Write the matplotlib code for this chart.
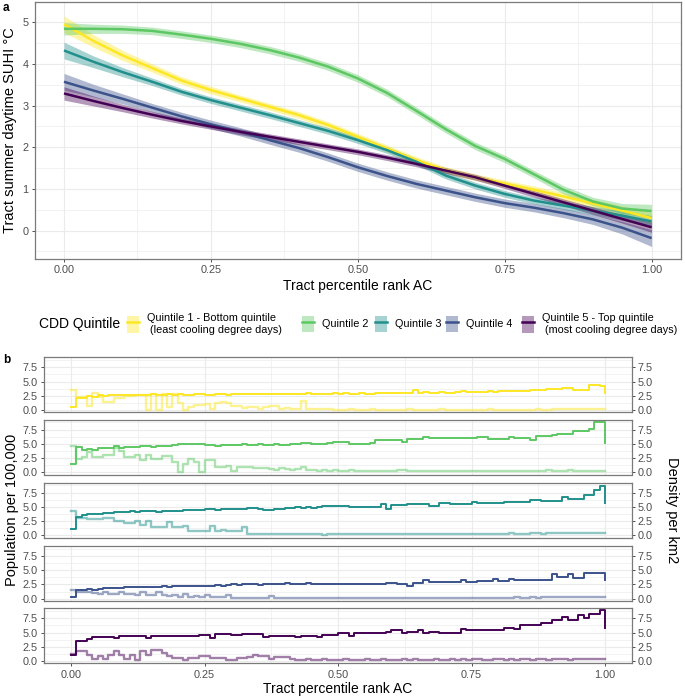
import numpy as np
import matplotlib
matplotlib.use("Agg")
import matplotlib.pyplot as plt
from matplotlib.patches import Patch
from matplotlib.lines import Line2D
from matplotlib.ticker import MultipleLocator, FixedLocator

plt.rcParams['font.family'] = ['Liberation Sans', 'DejaVu Sans']

# ---------------- data ----------------
quintile_labels = ["Quintile 1 - Bottom quintile\n (least cooling degree days)",
                   "Quintile 2", "Quintile 3", "Quintile 4",
                   "Quintile 5 - Top quintile\n (most cooling degree days)"]
colors = ["#FDE725", "#5DC863", "#21908C", "#3B528B", "#440154"]

# panel a: smoothed SUHI vs percentile rank AC
x_ac = np.round(np.arange(21) * 0.05, 2)
suhi_q1 = [4.95, 4.55, 4.2, 3.9, 3.6, 3.37, 3.17, 2.97, 2.77, 2.53, 2.25, 1.97, 1.69, 1.45, 1.28, 1.13, 0.98, 0.82, 0.65, 0.48, 0.3]
suhi_q2 = [4.84, 4.84, 4.83, 4.79, 4.7, 4.6, 4.48, 4.33, 4.15, 3.93, 3.65, 3.3, 2.87, 2.43, 2.03, 1.72, 1.35, 0.98, 0.7, 0.53, 0.47]
suhi_q3 = [4.32, 4.05, 3.8, 3.57, 3.33, 3.13, 2.95, 2.77, 2.58, 2.39, 2.17, 1.93, 1.65, 1.32, 1.08, 0.88, 0.72, 0.6, 0.48, 0.36, 0.22]
suhi_q4 = [3.57, 3.36, 3.16, 2.95, 2.74, 2.55, 2.37, 2.17, 1.98, 1.76, 1.52, 1.31, 1.12, 0.96, 0.8, 0.66, 0.55, 0.42, 0.27, 0.07, -0.18]
suhi_q5 = [3.29, 3.11, 2.94, 2.78, 2.63, 2.5, 2.37, 2.25, 2.13, 2.01, 1.89, 1.75, 1.6, 1.44, 1.28, 1.08, 0.88, 0.68, 0.48, 0.28, 0.08]
se_q1 = [0.2, 0.15, 0.12, 0.1, 0.09, 0.09, 0.08, 0.08, 0.08, 0.08, 0.08, 0.08, 0.08, 0.08, 0.08, 0.08, 0.09, 0.09, 0.1, 0.11, 0.13]
se_q2 = [0.15, 0.11, 0.1, 0.09, 0.09, 0.09, 0.09, 0.09, 0.09, 0.09, 0.09, 0.09, 0.09, 0.09, 0.09, 0.09, 0.09, 0.1, 0.1, 0.12, 0.16]
se_q3 = [0.2, 0.14, 0.11, 0.09, 0.08, 0.08, 0.08, 0.08, 0.08, 0.08, 0.08, 0.08, 0.08, 0.08, 0.08, 0.08, 0.08, 0.09, 0.1, 0.11, 0.14]
se_q4 = [0.2, 0.15, 0.12, 0.1, 0.1, 0.1, 0.1, 0.1, 0.1, 0.1, 0.1, 0.1, 0.1, 0.1, 0.1, 0.1, 0.1, 0.11, 0.12, 0.15, 0.2]
se_q5 = [0.16, 0.12, 0.09, 0.08, 0.07, 0.07, 0.07, 0.07, 0.07, 0.07, 0.07, 0.07, 0.07, 0.07, 0.07, 0.07, 0.08, 0.08, 0.09, 0.1, 0.12]

# panel b: population per 100,000 (dark) and density per km2 (light), by percentile bin
x_rank = np.round(np.arange(101) * 0.01, 2)
pop_q1 = [0.6, 2.2, 2.2, 2.5, 2.4, 2.6, 2.5, 2.6, 2.7, 2.6,
          2.6, 2.7, 2.7, 2.6, 2.7, 2.8, 2.7, 2.7, 2.8, 2.7,
          2.8, 2.7, 2.7, 2.8, 2.8, 2.7, 2.7, 2.8, 2.8, 2.7,
          2.8, 2.8, 2.9, 2.8, 2.8, 2.8, 2.9, 2.8, 2.8, 2.9,
          2.9, 2.8, 2.9, 2.9, 3.1, 2.9, 2.9, 2.8, 2.9, 3.0,
          2.9, 3.0, 2.9, 2.9, 3.0, 2.9, 2.9, 3.0, 3.0, 3.1,
          3.0, 3.0, 3.1, 3.1, 3.5, 3.0, 3.2, 3.1, 3.1, 3.2,
          3.1, 3.1, 3.2, 3.4, 3.2, 3.2, 3.2, 3.2, 3.3, 3.2,
          3.3, 3.3, 3.3, 3.4, 3.3, 3.4, 3.5, 3.6, 3.6, 3.7,
          3.8, 3.7, 3.9, 3.9, 3.6, 3.5, 3.6, 4.4, 4.4, 4.3,
          3.0]
den_q1 = [3.5, 2.3, 2.3, 0.7, 3.0, 2.3, 1.5, 1.5, 2.2, 2.2,
          2.5, 2.5, 2.6, 2.6, 0.0, 2.8, 0.0, 2.8, 0.5, 2.8,
          1.3, 0.0, 0.5, 0.9, 1.0, 1.1, 0.3, 1.3, 1.5, 1.2,
          0.8, 0.8, 0.4, 0.5, 0.6, 0.3, 0.5, 0.8, 0.8, 0.3,
          0.4, 0.3, 0.3, 1.6, 0.3, 0.2, 0.3, 0.2, 0.2, 0.1,
          0.1, 0.1, 0.2, 0.1, 0.1, 0.1, 0.2, 0.1, 0.1, 0.1,
          0.1, 0.1, 0.1, 0.2, 0.1, 0.1, 0.1, 0.1, 0.1, 0.2,
          0.1, 0.1, 0.1, 0.1, 0.1, 0.1, 0.1, 0.1, 0.2, 0.1,
          0.1, 0.1, 0.1, 0.1, 0.1, 0.1, 0.1, 0.2, 0.1, 0.1,
          0.2, 0.2, 0.2, 0.2, 0.3, 0.2, 0.2, 0.2, 0.2, 0.3,
          0.3]
pop_q2 = [1.5, 4.4, 4.0, 4.1, 4.0, 4.2, 4.2, 4.3, 4.6, 4.2,
          4.4, 4.5, 4.4, 4.6, 4.6, 4.5, 4.6, 4.7, 4.7, 4.8,
          4.9, 5.0, 5.0, 5.0, 4.9, 4.8, 4.8, 4.7, 4.8, 4.8,
          4.8, 4.8, 4.9, 4.8, 4.8, 4.9, 4.8, 4.8, 4.9, 4.8,
          4.8, 5.0, 4.9, 5.2, 5.2, 4.9, 5.0, 4.9, 5.1, 5.3,
          5.4, 5.4, 5.0, 5.0, 5.0, 5.0, 5.1, 5.6, 5.6, 5.7,
          5.7, 5.6, 5.4, 5.8, 5.8, 5.8, 6.2, 6.0, 6.0, 6.0,
          6.0, 6.1, 6.0, 6.0, 6.0, 6.0, 6.2, 6.2, 5.8, 5.8,
          5.8, 5.8, 6.2, 6.0, 6.0, 6.0, 5.6, 6.4, 6.4, 6.4,
          6.5, 6.7, 6.7, 6.7, 7.2, 7.2, 7.2, 7.6, 8.8, 8.8,
          5.1]
den_q2 = [4.6, 2.4, 2.7, 3.5, 2.7, 2.7, 3.1, 3.1, 4.3, 3.7,
          2.7, 2.7, 3.1, 2.2, 3.1, 2.4, 2.4, 2.8, 2.8, 1.8,
          0.1, 1.5, 2.4, 1.8, 0.1, 2.2, 2.2, 1.0, 1.0, 1.2,
          0.2, 1.0, 1.0, 1.0, 0.8, 0.8, 0.8, 0.6, 0.5, 0.7,
          0.6, 0.5, 0.6, 1.0, 0.4, 0.4, 0.3, 0.4, 0.3, 0.4,
          0.3, 0.3, 0.35, 0.3, 0.25, 0.3, 0.3, 0.3, 0.25, 0.3,
          0.3, 0.35, 0.4, 0.3, 0.3, 0.3, 0.25, 0.3, 0.3, 0.3,
          0.25, 0.3, 0.3, 0.3, 0.3, 0.3, 0.25, 0.25, 0.3, 0.3,
          0.3, 0.3, 0.3, 0.25, 0.3, 0.3, 0.3, 0.3, 0.3, 0.35,
          0.3, 0.3, 0.3, 0.35, 0.3, 0.3, 0.3, 0.3, 0.3, 0.3,
          0.3]
pop_q3 = [1.2, 3.3, 3.6, 3.7, 3.8, 3.8, 4.0, 4.0, 4.1, 4.1,
          4.1, 4.2, 4.1, 4.2, 4.2, 4.2, 4.1, 4.2, 4.2, 4.3,
          4.3, 4.4, 4.5, 4.4, 4.4, 4.6, 4.6, 4.5, 4.6, 4.7,
          4.7, 4.6, 4.6, 4.8, 4.8, 4.6, 4.5, 4.5, 4.6, 4.7,
          4.8, 4.8, 4.9, 4.8, 4.9, 4.8, 5.0, 5.1, 5.2, 5.2,
          5.2, 5.1, 5.0, 5.0, 5.0, 5.0, 5.0, 5.0, 5.5, 4.7,
          5.3, 5.3, 5.3, 5.5, 5.5, 5.5, 5.5, 5.1, 5.1, 5.6,
          5.6, 5.5, 5.5, 5.5, 5.5, 5.9, 5.6, 5.6, 5.6, 5.6,
          5.6, 5.9, 5.9, 5.9, 5.9, 5.9, 6.2, 6.2, 6.1, 6.1,
          6.1, 6.1, 6.8, 6.4, 6.4, 6.4, 7.1, 7.1, 7.9, 8.7,
          5.7]
den_q3 = [4.2, 3.0, 3.0, 2.9, 2.9, 2.9, 3.0, 3.0, 2.5, 2.5,
          2.2, 2.2, 2.6, 1.8, 2.5, 1.5, 1.5, 1.5, 2.4, 1.4,
          1.4, 1.6, 0.8, 0.8, 0.7, 0.8, 1.7, 0.8, 0.9, 0.8,
          0.7, 0.8, 1.5, 0.3, 0.3, 0.3, 0.25, 0.3, 0.25, 0.2,
          0.25, 0.2, 0.2, 0.25, 0.2, 0.2, 0.2, 0.15, 0.2, 0.2,
          0.2, 0.2, 0.25, 0.2, 0.2, 0.2, 0.25, 0.2, 0.2, 0.25,
          0.25, 0.2, 0.25, 0.25, 0.3, 0.25, 0.25, 0.3, 0.25, 0.25,
          0.3, 0.25, 0.3, 0.3, 0.25, 0.3, 0.3, 0.3, 0.3, 0.3,
          0.3, 0.3, 0.35, 0.3, 0.3, 0.3, 0.35, 0.35, 0.3, 0.35,
          0.35, 0.35, 0.4, 0.35, 0.4, 0.4, 0.4, 0.4, 0.45, 0.45,
          0.45]
pop_q4 = [0.35, 1.5, 1.5, 1.7, 1.6, 1.7, 1.8, 1.8, 1.9, 1.8,
          2.0, 2.1, 2.0, 2.1, 2.1, 2.0, 2.1, 2.2, 2.1, 2.2,
          2.3, 2.2, 2.3, 2.3, 2.2, 2.3, 2.3, 2.4, 2.3, 2.4,
          2.5, 2.4, 2.5, 2.5, 2.6, 2.4, 2.5, 2.6, 2.5, 2.5,
          2.7, 2.6, 2.5, 2.6, 2.8, 2.6, 2.6, 2.5, 2.6, 2.6,
          2.6, 2.5, 2.5, 2.6, 2.6, 2.5, 2.5, 2.6, 2.5, 2.8,
          2.8, 2.55, 2.55, 2.3, 2.8, 2.8, 3.25, 3.0, 3.0, 3.0,
          3.0, 3.0, 3.0, 3.25, 3.0, 3.0, 3.1, 3.1, 3.1, 3.4,
          3.1, 3.1, 3.5, 3.25, 3.25, 3.25, 3.25, 3.25, 3.35, 3.35,
          4.25, 3.85, 3.85, 4.25, 3.55, 3.55, 4.4, 4.4, 4.5, 4.5,
          3.25]
den_q4 = [1.6, 1.2, 1.2, 1.2, 1.0, 0.9, 1.2, 0.9, 0.9, 1.2,
          0.9, 0.8, 0.6, 1.2, 0.6, 0.6, 1.2, 0.6, 0.5, 0.6,
          0.35, 0.8, 0.35, 0.4, 0.3, 0.6, 0.35, 0.3, 0.3, 0.6,
          0.15, 0.2, 0.15, 0.2, 0.15, 0.15, 0.2, 0.5, 0.2, 0.15,
          0.15, 0.1, 0.15, 0.15, 0.1, 0.15, 0.1, 0.1, 0.15, 0.1,
          0.1, 0.15, 0.1, 0.1, 0.15, 0.1, 0.15, 0.15, 0.1, 0.15,
          0.15, 0.1, 0.15, 0.15, 0.15, 0.2, 0.15, 0.15, 0.15, 0.2,
          0.15, 0.15, 0.2, 0.2, 0.15, 0.2, 0.2, 0.2, 0.2, 0.2,
          0.2, 0.2, 0.2, 0.25, 0.2, 0.2, 0.25, 0.2, 0.25, 0.25,
          0.25, 0.25, 0.3, 0.25, 0.3, 0.3, 0.3, 0.3, 0.3, 0.35,
          0.35]
pop_q5 = [1.15, 3.5, 3.5, 3.9, 4.2, 4.2, 4.2, 4.2, 4.1, 4.35,
          4.35, 4.35, 4.35, 4.35, 4.1, 4.35, 4.35, 4.35, 4.35, 4.35,
          4.45, 4.45, 4.45, 4.45, 4.65, 4.65, 4.1, 4.75, 4.75, 4.75,
          4.55, 4.55, 4.7, 4.7, 4.7, 4.7, 4.25, 4.5, 4.5, 4.5,
          4.5, 4.5, 4.25, 4.5, 4.5, 4.5, 4.25, 4.6, 4.6, 4.6,
          4.9, 4.9, 4.4, 4.9, 4.9, 4.9, 4.9, 4.9, 4.9, 5.2,
          5.4, 5.4, 4.9, 5.2, 5.2, 5.4, 4.9, 5.2, 5.2, 4.9,
          4.9, 4.9, 4.9, 5.7, 5.4, 5.4, 5.4, 5.4, 5.5, 5.5,
          5.5, 5.8, 5.8, 5.6, 6.3, 6.3, 6.3, 6.3, 6.7, 6.7,
          7.2, 7.2, 7.7, 7.2, 7.2, 8.1, 7.6, 8.2, 8.2, 8.9,
          5.8]
den_q5 = [1.3, 1.8, 1.8, 1.15, 0.45, 1.0, 0.4, 1.15, 1.75, 1.15,
          0.4, 1.05, 0.3, 1.75, 1.15, 2.0, 2.0, 1.45, 0.9, 0.6,
          0.6, 0.3, 0.6, 0.6, 1.0, 1.0, 0.5, 0.5, 0.5, 0.3,
          0.3, 0.5, 0.5, 0.7, 1.15, 0.9, 0.9, 0.4, 0.7, 0.7,
          0.7, 0.4, 0.3, 0.3, 0.4, 0.3, 0.3, 0.4, 0.3, 0.3,
          0.3, 0.4, 0.3, 0.3, 0.3, 0.35, 0.3, 0.3, 0.4, 0.3,
          0.3, 0.3, 0.35, 0.3, 0.4, 0.3, 0.3, 0.3, 0.35, 0.3,
          0.3, 0.4, 0.3, 0.35, 0.3, 0.45, 0.35, 0.3, 0.3, 0.4,
          0.35, 0.3, 0.35, 0.3, 0.4, 0.35, 0.3, 0.4, 0.35, 0.3,
          0.35, 0.4, 0.35, 0.3, 0.35, 0.35, 0.4, 0.35, 0.4, 0.4,
          0.4]

x_tick_vals = [0, 0.25, 0.5, 0.75, 1.0]
x_tick_labels = ["0.00", "0.25", "0.50", "0.75", "1.00"]
ya_ticks = [0, 1, 2, 3, 4, 5]
yb_ticks = [0, 2.5, 5.0, 7.5]
yb_tick_labels = ["0.0", "2.5", "5.0", "7.5"]

suhi = [suhi_q1, suhi_q2, suhi_q3, suhi_q4, suhi_q5]
ses = [se_q1, se_q2, se_q3, se_q4, se_q5]
pops = [pop_q1, pop_q2, pop_q3, pop_q4, pop_q5]
dens = [den_q1, den_q2, den_q3, den_q4, den_q5]

# ---------------- figure ----------------
W, H = 685, 700
fig = plt.figure(figsize=(W / 100, H / 100), dpi=100)


def fx(px):
    return px / W


def fy(py):
    return 1 - py / H


GRID = "#EBEBEB"
BORDER = "#7a7a7a"
TICKC = "#4D4D4D"
TS = 7.8


def style(ax):
    for s in ax.spines.values():
        s.set_color(BORDER)
        s.set_linewidth(0.9)
    ax.set_axisbelow(True)
    ax.grid(which="major", color=GRID, lw=0.8)
    ax.grid(which="minor", color=GRID, lw=0.45)
    ax.tick_params(which="major", length=2.5, width=0.6, color="#333333",
                   labelcolor=TICKC, labelsize=TS, pad=2)
    ax.tick_params(which="minor", length=0)


# panel a
axa = fig.add_axes([fx(34.6), fy(259), fx(681) - fx(34.6), fy(1.7) - fy(259)])
style(axa)
for i in range(5):
    y = np.array(suhi[i])
    s = np.array(ses[i])
    axa.fill_between(x_ac, y - s, y + s, color=colors[i], alpha=0.4, lw=0)
    axa.plot(x_ac, y, color=colors[i], lw=1.8, solid_capstyle="butt")
axa.set_xlim(-0.05, 1.05)
axa.set_ylim(-0.68, 5.49)
axa.xaxis.set_major_locator(FixedLocator(x_tick_vals))
axa.set_xticklabels(x_tick_labels)
axa.xaxis.set_minor_locator(MultipleLocator(0.125))
axa.yaxis.set_major_locator(FixedLocator(ya_ticks))
axa.set_yticklabels([str(v) for v in ya_ticks])
axa.yaxis.set_minor_locator(MultipleLocator(0.5))

fig.text(fx(3), fy(8), "a", weight="bold", fontsize=8.5, ha="left", va="center")
fig.text(fx(357.8), fy(286), "Tract percentile rank AC", ha="center", va="center", fontsize=10)
fig.text(fx(10), fy(130), "Tract summer daytime SUHI °C", rotation=90, ha="center", va="center", fontsize=10.5)

# legend
fig.text(fx(39), fy(324), "CDD Quintile", ha="left", va="center", fontsize=10)
key_x = [127, 302, 375, 445.6, 522]
for i in range(5):
    h = (Patch(facecolor=colors[i], alpha=0.4, edgecolor="none"),
         Line2D([], [], color=colors[i], lw=1.8))
    fig.legend([h], [quintile_labels[i]], loc="center left",
               bbox_to_anchor=(fx(key_x[i]), fy(324)), frameon=False,
               fontsize=TS, handlelength=1.1, handleheight=2.0,
               handletextpad=0.75, borderpad=0, borderaxespad=0)

# panel b
tops = [357.3, 419.5, 482.5, 545.7, 608.3]
ph = 55.0
for i in range(5):
    ax = fig.add_axes([fx(44.3), fy(tops[i] + ph), fx(631.7) - fx(44.3), ph / H])
    style(ax)
    ax.step(x_rank, dens[i], where="post", color=colors[i], alpha=0.5, lw=1.7)
    ax.step(x_rank, pops[i], where="post", color=colors[i], lw=1.4)
    ax.set_xlim(-0.05, 1.05)
    ax.set_ylim(-0.35, 9.25)
    ax.xaxis.set_major_locator(FixedLocator(x_tick_vals))
    ax.xaxis.set_minor_locator(MultipleLocator(0.125))
    ax.yaxis.set_major_locator(FixedLocator(yb_ticks))
    ax.set_yticklabels(yb_tick_labels)
    ax.yaxis.set_minor_locator(MultipleLocator(1.25))
    ax.tick_params(axis="y", which="major", right=True, labelright=True)
    if i < 4:
        ax.tick_params(axis="x", which="major", bottom=False, labelbottom=False)
    else:
        ax.set_xticklabels(x_tick_labels)

fig.text(fx(3), fy(360), "b", weight="bold", fontsize=8.5, ha="left", va="center")
fig.text(fx(338), fy(689), "Tract percentile rank AC", ha="center", va="center", fontsize=10)
fig.text(fx(12), fy(510), "Population per 100,000", rotation=90, ha="center", va="center", fontsize=10.5)
fig.text(fx(672), fy(510), "Density per km2", rotation=270, ha="center", va="center", fontsize=10.5)

fig.savefig("out.png", dpi=100)
